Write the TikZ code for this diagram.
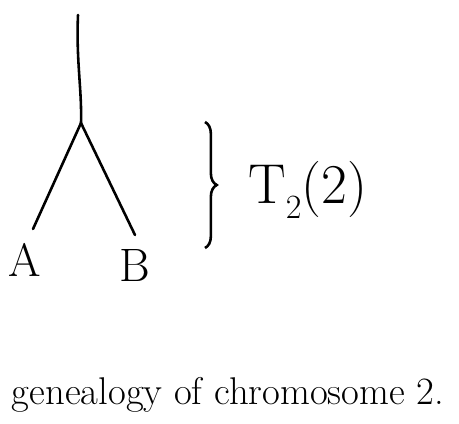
\documentclass[tikz,border=0pt]{standalone}
\usepackage{tikz}
\usetikzlibrary{positioning, decorations.pathreplacing, calc}

\begin{document}
\begin{tikzpicture}[
  x=0.03cm, y=-0.03cm,
  branch/.style={draw=black, line width=2.2pt, line cap=round, line join=round},
  leaflbl/.style={font=\fontsize{40}{44}\selectfont, inner sep=0pt},
  timelbl/.style={font=\fontsize{48}{54}\selectfont, inner sep=0pt, anchor=west},
  capt/.style={font=\fontsize{33}{38}\selectfont, inner sep=0pt},
  curly/.style={draw=black, line width=2.2pt,
               decorate, decoration={brace, amplitude=10pt}},
]
  \useasboundingbox (0,0) rectangle (459,423);

  \coordinate (root_top) at (78,  15);
  \coordinate (split)    at (81, 123);
  \coordinate (leaf_a)   at (33, 229);
  \coordinate (leaf_b)   at (135, 235);
  \coordinate (brace_top) at (205, 122);
  \coordinate (brace_bot) at (205, 248);

  % tree
  \draw[branch] (root_top) .. controls (76,60) and (82,90) .. (split);
  \draw[branch] (split) -- (leaf_a);
  \draw[branch] (split) -- (leaf_b);

  \node[leaflbl, below=12pt of leaf_a, xshift=-7pt] (lbl_a) {A};
  \node[leaflbl, below=12pt of leaf_b] (lbl_b) {B};

  \draw[curly] (brace_top) -- (brace_bot);
  \node[timelbl] at (248, 190) (tlbl)
    {T\raisebox{-0.28em}{\fontsize{29}{31}\selectfont 2}(2)};

  \node[capt] at (228, 395) (caption) {genealogy of chromosome 2.};
\end{tikzpicture}
\end{document}
